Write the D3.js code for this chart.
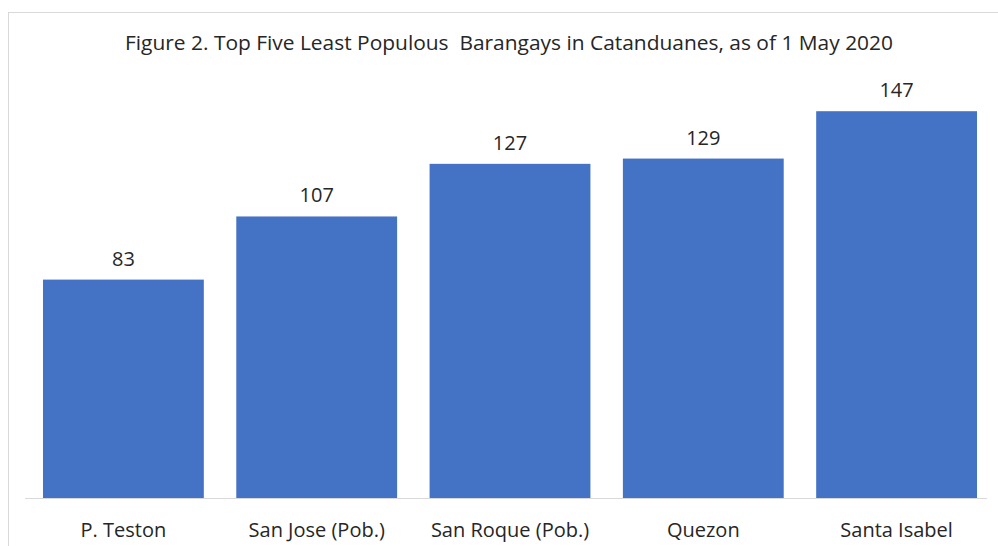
<!DOCTYPE html>
<html>
<head>
<meta charset="utf-8">
<script src="https://cdn.jsdelivr.net/npm/d3@7"></script>
<style>
  html, body { margin: 0; padding: 0; background: #fff; }
  svg { display: block; }
</style>
</head>
<body>
<svg id="chart" width="998" height="546"></svg>
<script>
// Top five least populous barangays, Catanduanes (2020 census)
const categories = ["P. Teston", "San Jose (Pob.)", "San Roque (Pob.)", "Quezon", "Santa Isabel"];
const population = [83, 107, 127, 129, 147];
const titleText = "Figure 2. Top Five Least Populous  Barangays in Catanduanes, as of 1 May 2020";

const svg = d3.select("#chart");
const font = "'Open Sans', 'Noto Sans', sans-serif";

// Chart frame (runs off the right and bottom of the picture)
svg.append("rect")
  .attr("x", 8.5)
  .attr("y", 12.5)
  .attr("width", 1100)
  .attr("height", 700)
  .attr("fill", "#fff")
  .attr("stroke", "#d9d9d9");

const width = 998, height = 546;
const baseY = 498;

const x = d3.scaleBand()
  .domain(categories)
  .range([26.75, 993.25])
  .paddingInner(0.168)
  .paddingOuter(0.084);

const y = d3.scaleLinear()
  .domain([0, 160])
  .range([baseY, 77]);

// Title
svg.append("text")
  .attr("x", 509)
  .attr("y", 50)
  .attr("text-anchor", "middle")
  .attr("font-family", font)
  .attr("font-size", 20)
  .attr("fill", "#262626")
  .attr("xml:space", "preserve")
  .attr("textLength", 768)
  .attr("lengthAdjust", "spacingAndGlyphs")
  .text(titleText);

// Bars
svg.append("g")
  .selectAll("rect")
  .data(categories)
  .join("rect")
  .attr("x", d => x(d))
  .attr("width", x.bandwidth())
  .attr("y", (d, i) => y(population[i]))
  .attr("height", (d, i) => baseY - y(population[i]))
  .attr("fill", "#4472c4");

// Baseline
svg.append("line")
  .attr("x1", 25)
  .attr("x2", 987)
  .attr("y1", baseY + 0.5)
  .attr("y2", baseY + 0.5)
  .attr("stroke", "#d9d9d9");

// Value labels
svg.append("g")
  .selectAll("text")
  .data(categories)
  .join("text")
  .attr("x", d => x(d) + x.bandwidth() / 2)
  .attr("y", (d, i) => y(population[i]) - 14)
  .attr("text-anchor", "middle")
  .attr("font-family", font)
  .attr("font-size", 20)
  .attr("fill", "#262626")
  .text((d, i) => population[i]);

// Category labels
const xAxis = svg.append("g")
  .attr("transform", `translate(0,${baseY})`)
  .call(d3.axisBottom(x).tickSize(0).tickPadding(0));
xAxis.select(".domain").remove();
xAxis.selectAll("text")
  .attr("dy", null)
  .attr("y", 39)
  .attr("font-family", font)
  .attr("font-size", 20)
  .attr("fill", "#262626");
</script>
</body>
</html>
